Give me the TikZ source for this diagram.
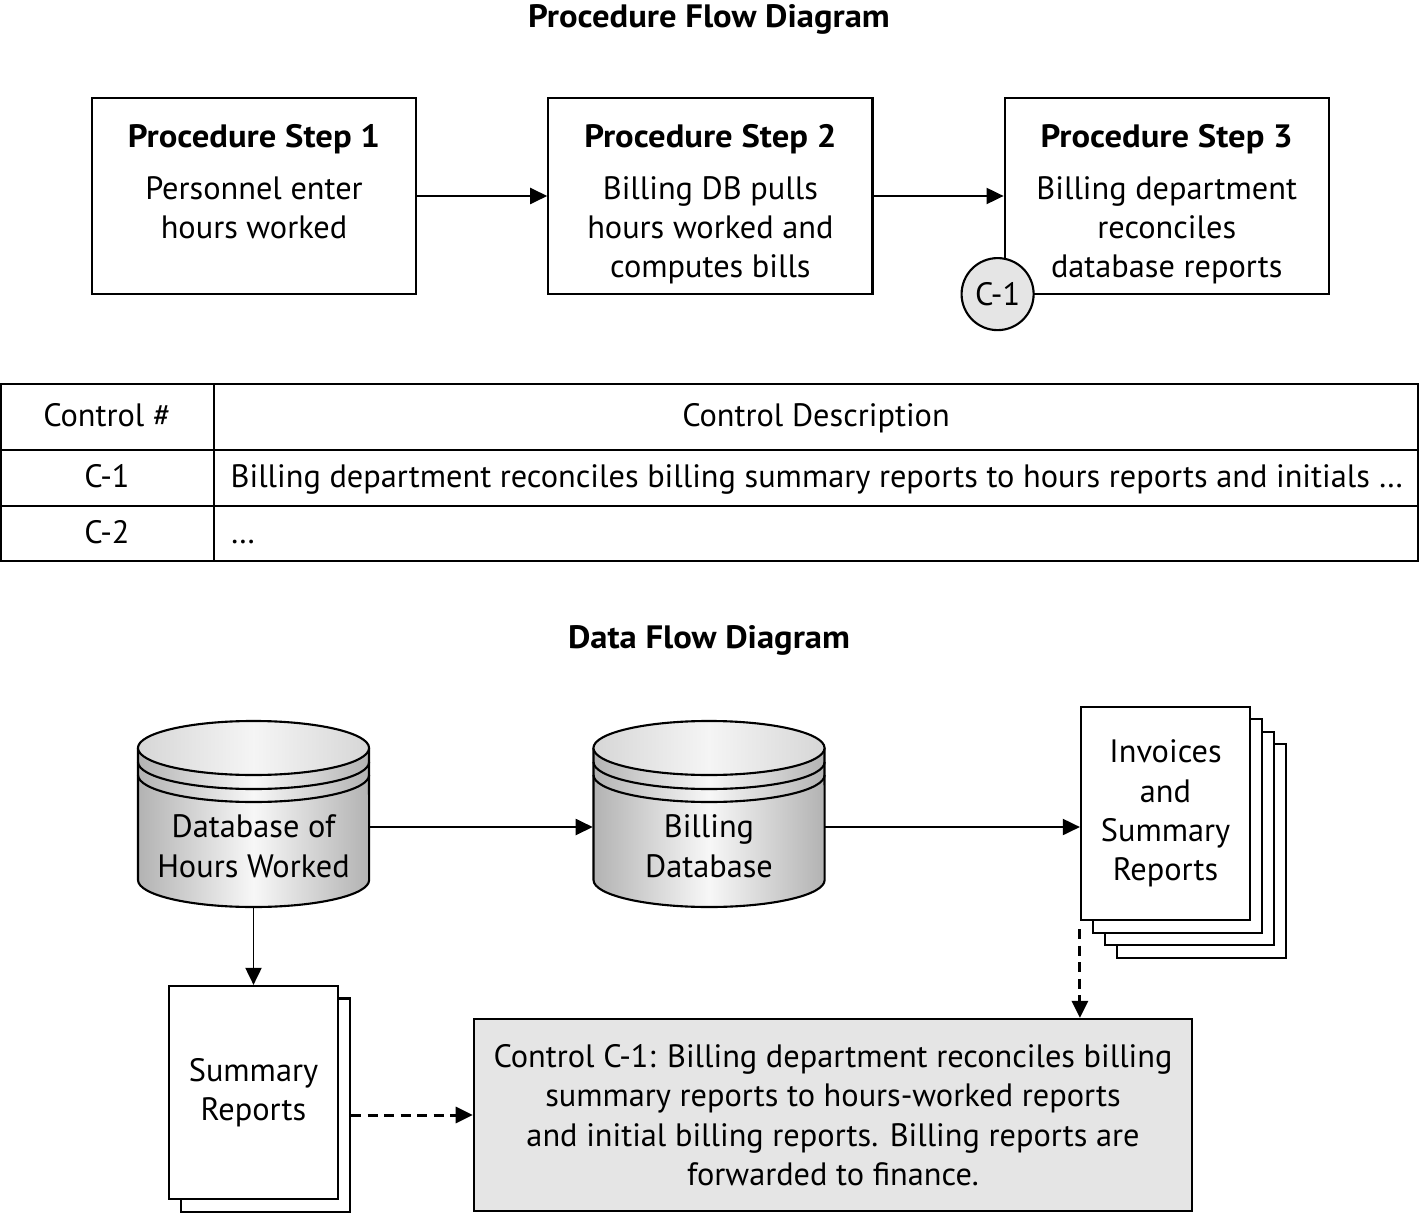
\documentclass[tikz,border=0pt]{standalone}
\usepackage{fontspec}
\setmainfont{PT Sans}[BoldFeatures={FakeStretch=1.07}]
\usetikzlibrary{positioning,arrows.meta,shapes}

\newcommand{\dfont}{\fontsize{9.2}{11.2}\selectfont}

\tikzset{
  stepbox/.style={draw, line width=0.6pt, minimum width=3.24cm, minimum height=1.96cm, inner sep=0pt},
  steptext/.style={align=center, inner sep=0pt},
  ctrlmark/.style={draw, circle, fill=black!10, line width=0.6pt, minimum size=0.72cm, inner sep=0pt},
  tabline/.style={line width=0.6pt},
  cell/.style={inner sep=0pt, anchor=base},
  flow/.style={-{Triangle[length=0.17cm,width=0.16cm]}, line width=0.55pt},
  dflow/.style={-{Triangle[length=0.17cm,width=0.16cm]}, line width=0.85pt, dash pattern=on 0.1cm off 0.065cm},
  drumline/.style={line width=0.6pt},
  drumbox/.style={minimum width=2.31cm, minimum height=1.87cm, inner sep=0pt},
  drumtext/.style={align=center, inner sep=0pt, anchor=north},
  page/.style={draw, fill=white, line width=0.6pt, minimum width=1.69cm, minimum height=2.13cm, inner sep=0pt, align=center},
  ctrlbox/.style={draw, fill=black!10, line width=0.6pt, minimum width=7.18cm, minimum height=1.92cm, inner sep=0pt, align=center}
}

% database drum: #1 = x of centre, #2 = name
\newcommand{\drawdrum}[2]{%
  \shade[left color=black!30, right color=black!30, middle color=black!3]
    (#1-115.5,748) -- (#1-115.5,880) arc[start angle=180, end angle=360, x radius=1.155cm, y radius=0.27cm] -- (#1+115.5,748) -- cycle;
  \draw[drumline] (#1-115.5,748) -- (#1-115.5,880) arc[start angle=180, end angle=360, x radius=1.155cm, y radius=0.27cm] -- (#1+115.5,748);
  \foreach \bandy in {762,775}
    \draw[drumline] (#1-115.5,\bandy) arc[start angle=180, end angle=360, x radius=1.155cm, y radius=0.27cm];
  \shadedraw[drumline, left color=black!16, right color=black!16, middle color=black!4] (#1,748) ellipse[x radius=1.155cm, y radius=0.27cm];
  \node[drumbox] (#2) at (#1,813.5) {};
}

\begin{document}
\begin{tikzpicture}[x=0.01cm, y=-0.01cm, font=\dfont]
  \useasboundingbox (0,0) rectangle (1419,1213);

  % procedure flow
  \node[font=\dfont\bfseries, anchor=base] (pfdtitle) at (709,28) {Procedure Flow Diagram};

  \node[stepbox] (step1) at (254,196) {};
  \node[stepbox, right=1.30cm of step1] (step2) {};
  \node[stepbox, right=1.30cm of step2] (step3) {};

  \node[steptext, below=0.27cm of step1.north] (step1txt) {\textbf{Procedure Step 1}\\[0.12cm]Personnel enter\\hours worked};
  \node[steptext, below=0.27cm of step2.north] (step2txt) {\textbf{Procedure Step 2}\\[0.12cm]Billing DB pulls\\hours worked and\\computes bills};
  \node[steptext, below=0.27cm of step3.north] (step3txt) {\textbf{Procedure Step 3}\\[0.12cm]Billing department\\reconciles\\database reports};

  \draw[flow] (step1) -- (step2);
  \draw[flow] (step2) -- (step3);

  \node[ctrlmark] (c1mark) at ([shift={(-6,-1)}]step3.south west) {C-1};

  % control table
  \draw[tabline] (1,384) rectangle (1418,561);
  \draw[tabline] (1,450) -- (1418,450) (1,506) -- (1418,506) (214,384) -- (214,561);
  \node[cell] (hnum) at (107,427) {Control \#};
  \node[cell] (hdesc) at (816,427) {Control Description};
  \node[cell] (c1num) at (107,488) {C-1};
  \node[cell, anchor=base west] (c1desc) at (230,488) {Billing department reconciles billing summary reports to hours reports and initials …};
  \node[cell] (c2num) at (107,544) {C-2};
  \node[cell, anchor=base west] (c2desc) at (230,544) {…};

  % data flow
  \node[font=\dfont\bfseries, anchor=base] (dfdtitle) at (709,648) {Data Flow Diagram};

  \drawdrum{253.5}{hoursdb}
  \drawdrum{709}{billdb}
  \node[drumtext] (hourstxt) at (253.5,814) {Database of\\Hours Worked};
  \node[drumtext] (billtxt) at (709,814) {Billing\\Database};

  \foreach \k in {3,2,1}
    \node[page] (invback\k) at (1165.5+12*\k,813.5+12.5*\k) {};
  \node[page] (inv) at (1165.5,813.5) {Invoices\\and\\Summary\\Reports};

  \node[page] (sumback) at (265.5,1105) {};
  \node[page] (sumdoc) at (253.5,1092.5) {Summary\\Reports};

  \node[ctrlbox] (ctrlbox) at (833,1115) {Control C-1: Billing department reconciles billing\\summary reports to hours-worked reports\\and initial billing reports. Billing reports are\\forwarded to finance.};

  \draw[flow] ([yshift=-0.135cm]hoursdb.east) -- ([yshift=-0.135cm]billdb.west);
  \draw[flow] ([yshift=-0.135cm]billdb.east) -- ([yshift=-0.135cm]inv.west);
  \draw[flow] (hoursdb.south) -- (sumdoc.north);
  \draw[dflow] ([yshift=-0.08cm]inv.south west) -- (inv.south west |- ctrlbox.north);
  \draw[dflow] (sumback.east |- ctrlbox.west) -- (ctrlbox.west);
\end{tikzpicture}
\end{document}
